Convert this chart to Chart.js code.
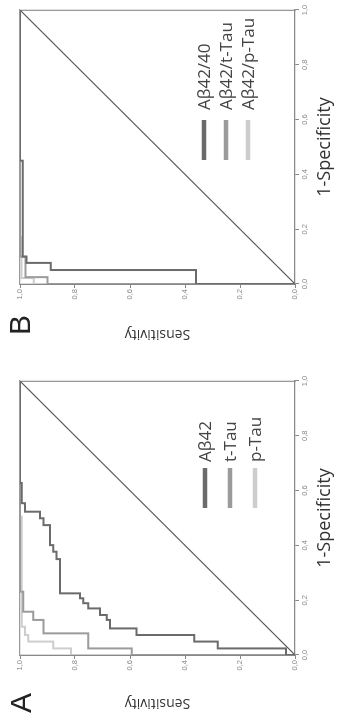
<!DOCTYPE html>
<html>
<head>
<meta charset="utf-8">
<script src="https://cdn.jsdelivr.net/npm/chart.js@4.4.1/dist/chart.umd.min.js"></script>
<style>
  html, body { margin: 0; padding: 0; background: #fff; width: 342px; height: 722px; overflow: hidden; }
  /* the figure is laid out as two panels side by side, then turned a quarter left */
  #fig { position: absolute; left: 0; top: 0; width: 722px; height: 342px;
         transform-origin: 0 0; transform: translate(0, 722px) rotate(-90deg); }
  #fig canvas { position: absolute; top: 0; }
</style>
</head>
<body>
<div id="fig">
  <canvas id="chartA" width="361" height="342" style="left:0"></canvas>
  <canvas id="chartB" width="361" height="342" style="left:361px"></canvas>
</div>
<script>
// ROC curves, x = 1-Specificity, y = Sensitivity.
const tickValues = [0, 0.2, 0.4, 0.6, 0.8, 1.0];
const diagFpr  = [0, 1];
const diagSens = [0, 1];

// Panel A
const labelsA = ["Aβ42", "t-Tau", "p-Tau"];
const fprAb42  = [0, 0, 0.024, 0.024, 0.049, 0.049, 0.073, 0.073, 0.097, 0.097, 0.128, 0.128, 0.146, 0.146, 0.170, 0.170, 0.189, 0.189, 0.207, 0.207, 0.225, 0.225, 0.350, 0.350, 0.377, 0.377, 0.401, 0.401, 0.474, 0.474, 0.499, 0.499, 0.523, 0.523, 0.554, 0.554, 0.628, 0.628, 1];
const sensAb42 = [0, 0.033, 0.033, 0.281, 0.281, 0.366, 0.366, 0.576, 0.576, 0.673, 0.673, 0.685, 0.685, 0.709, 0.709, 0.752, 0.752, 0.770, 0.770, 0.782, 0.782, 0.855, 0.855, 0.867, 0.867, 0.879, 0.879, 0.891, 0.891, 0.915, 0.915, 0.927, 0.927, 0.982, 0.982, 0.994, 0.994, 1, 1];
const fprTtau  = [0, 0, 0.024, 0.024, 0.079, 0.079, 0.128, 0.128, 0.158, 0.158, 0.231, 0.231, 1];
const sensTtau = [0, 0.594, 0.594, 0.752, 0.752, 0.915, 0.915, 0.952, 0.952, 0.988, 0.988, 1, 1];
const fprPtau  = [0, 0, 0.024, 0.024, 0.049, 0.049, 0.073, 0.073, 0.103, 0.103, 0.505, 0.505, 1];
const sensPtau = [0, 0.815, 0.815, 0.879, 0.879, 0.970, 0.970, 0.982, 0.982, 0.994, 0.994, 1, 1];

// Panel B
const labelsB = ["Aβ42/40", "Aβ42/t-Tau", "Aβ42/p-Tau"];
const fprR40   = [0, 0, 0.051, 0.051, 0.077, 0.077, 0.100, 0.100, 0.450, 0.450, 1];
const sensR40  = [0, 0.360, 0.360, 0.888, 0.888, 0.976, 0.976, 0.990, 0.990, 1, 1];
const fprRt    = [0, 0, 0.025, 0.025, 0.100, 0.100, 1];
const sensRt   = [0, 0.900, 0.900, 0.980, 0.980, 1, 1];
const fprRp    = [0, 0, 0.022, 0.022, 0.170, 0.170, 1];
const sensRp   = [0, 0.950, 0.950, 0.995, 0.995, 1, 1];

const colors = ["#6b6b6b", "#9b9b9b", "#cdcdcd"];

const pts = (xs, ys) => xs.map((x, i) => ({ x, y: ys[i] }));
const fmt = (v) => v.toFixed(1).replace(".", ",");

// legend swatches + panel letter, drawn on the canvas
const panelDecor = {
  id: "panelDecor",
  afterDraw(chart, _args, opts) {
    const ctx = chart.ctx;
    ctx.save();
    ctx.font = '17px "Open Sans"';
    ctx.textBaseline = "middle";
    ctx.textAlign = "left";
    let i = 0;
    chart.data.datasets.forEach((ds) => {
      if (!ds.inLegend) return;
      const y = opts.rows[i++];
      ctx.strokeStyle = ds.borderColor;
      ctx.lineWidth = 4.5;
      ctx.beginPath();
      ctx.moveTo(opts.swatchX[0], y);
      ctx.lineTo(opts.swatchX[1], y);
      ctx.stroke();
      ctx.fillStyle = "#444";
      ctx.fillText(ds.label, opts.textX, y + 1);
    });
    ctx.font = '30px "Liberation Sans"';
    ctx.textAlign = "center";
    ctx.fillStyle = "#222";
    ctx.fillText(opts.letter, opts.letterX, opts.letterY);
    ctx.restore();
  },
};

function makeDatasets(labels, series) {
  const sets = [{
    label: "diag", data: pts(diagFpr, diagSens), borderColor: "#555",
    borderWidth: 1.2, inLegend: false, order: 4,
  }];
  series.forEach((s, i) => sets.push({
    label: labels[i], data: pts(s[0], s[1]), borderColor: colors[i],
    borderWidth: 2, inLegend: true, order: i + 1,
  }));
  return sets;
}

function makeScales(yWidth, yTitlePad) {
  const tickFont = { family: "Liberation Sans", size: 7.5 };
  const frame = { type: "linear", min: 0, max: 1, grid: { display: false },
                  ticks: { display: false }, border: { color: "#9a9a9a", width: 1.3 } };
  return {
    x: {
      type: "linear", min: 0, max: 1,
      ticks: { stepSize: 0.2, font: tickFont, color: "#888", padding: 1, maxRotation: 0, callback: fmt },
      grid: { drawOnChartArea: false, tickLength: 4, color: "#888" },
      border: { color: "#888", width: 1.3 },
      title: { display: true, text: "1-Specificity", color: "#333",
               font: { family: "Open Sans", size: 18 }, padding: { top: 0, bottom: 6 } },
      afterFit: (s) => { s.height = 47; },
    },
    y: {
      type: "linear", min: 0, max: 1,
      ticks: { stepSize: 0.2, font: tickFont, color: "#888", padding: 1, callback: fmt },
      grid: { drawOnChartArea: false, tickLength: 4, color: "#888" },
      border: { color: "#888", width: 1.3 },
      title: { display: true, text: "Sensitivity", color: "#333",
               font: { family: "Open Sans", size: 14 }, padding: { top: yTitlePad, bottom: 0 } },
      afterFit: (s) => { s.width = yWidth; },
    },
    x2: { ...frame, axis: "x", position: "top", afterFit: (s) => { s.height = 0; } },
    y2: { ...frame, axis: "y", position: "right", afterFit: (s) => { s.width = 0; } },
  };
}

function render(canvasId, labels, series, o) {
  new Chart(document.getElementById(canvasId), {
    type: "scatter",
    data: { datasets: makeDatasets(labels, series) },
    options: {
      responsive: false,
      animation: false,
      devicePixelRatio: 1,
      showLine: true,
      elements: { point: { radius: 0, hoverRadius: 0 }, line: { tension: 0, fill: false } },
      layout: { padding: { top: 20, right: o.right, left: 0, bottom: 0 } },
      scales: makeScales(o.yWidth, o.yTitlePad),
      plugins: {
        legend: { display: false },
        tooltip: { enabled: false },
        panelDecor: o.decor,
      },
    },
    plugins: [panelDecor],
  });
}

render("chartA", labelsA, [[fprAb42, sensAb42], [fprTtau, sensTtau], [fprPtau, sensPtau]], {
  right: 20, yWidth: 67, yTitlePad: 10.5,
  decor: { rows: [205, 230, 255], swatchX: [214, 254], textX: 260, letter: "A", letterX: 19, letterY: 23 },
});

render("chartB", labelsB, [[fprR40, sensR40], [fprRt, sensRt], [fprRp, sensRp]], {
  right: 10, yWidth: 77, yTitlePad: 18.5,
  decor: { rows: [204, 226, 248], swatchX: [201, 241], textX: 251, letter: "B", letterX: 36, letterY: 22 },
});
</script>
</body>
</html>
